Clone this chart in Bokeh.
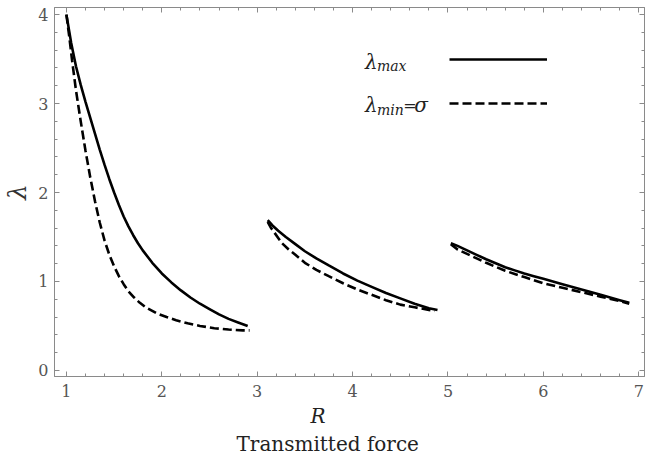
from bokeh.plotting import figure
from bokeh.models import (Range1d, LinearAxis, Label, Legend, LegendItem, FixedTicker,
                          Title, CustomJSTickFormatter)
from bokeh.embed import file_html
from bokeh.resources import INLINE

# ---- data ----
seg1_R_max = [1.00, 1.05, 1.10, 1.15, 1.20, 1.25, 1.30, 1.35, 1.40, 1.45, 1.50, 1.55, 1.60, 1.65,
              1.70, 1.75, 1.80, 1.90, 2.00, 2.10, 2.20, 2.30, 2.40, 2.50, 2.60, 2.70, 2.80, 2.90]
seg1_L_max = [4.00, 3.68, 3.42, 3.21, 3.02, 2.84, 2.66, 2.48, 2.31, 2.15, 2.00, 1.86, 1.73, 1.62,
              1.52, 1.43, 1.35, 1.21, 1.09, 0.99, 0.90, 0.82, 0.75, 0.69, 0.63, 0.58, 0.54, 0.50]
seg1_R_min = [1.00, 1.03, 1.06, 1.10, 1.15, 1.20, 1.25, 1.30, 1.35, 1.40, 1.45, 1.50, 1.55, 1.60,
              1.65, 1.71, 1.77, 1.83, 1.90, 1.95, 2.05, 2.15, 2.27, 2.40, 2.55, 2.70, 2.85, 2.92]
seg1_L_min = [4.00, 3.75, 3.48, 3.15, 2.80, 2.47, 2.17, 1.90, 1.66, 1.46, 1.30, 1.17, 1.06, 0.97,
              0.89, 0.82, 0.76, 0.71, 0.67, 0.64, 0.60, 0.565, 0.53, 0.50, 0.475, 0.46, 0.45, 0.45]

seg2_R_max = [3.11, 3.16, 3.22, 3.30, 3.40, 3.50, 3.62, 3.75, 3.90, 4.05, 4.20, 4.35, 4.50, 4.65, 4.80, 4.89]
seg2_L_max = [1.69, 1.63, 1.57, 1.50, 1.42, 1.34, 1.26, 1.18, 1.09, 1.01, 0.94, 0.87, 0.81, 0.75, 0.70, 0.68]
seg2_R_min = [3.11, 3.14, 3.18, 3.22, 3.26, 3.33, 3.40, 3.50, 3.62, 3.75, 3.90, 4.05, 4.20, 4.35, 4.50, 4.65, 4.80, 4.86]
seg2_L_min = [1.67, 1.61, 1.55, 1.49, 1.43, 1.36, 1.30, 1.21, 1.13, 1.06, 0.98, 0.91, 0.85, 0.79, 0.74, 0.71, 0.68, 0.67]

seg3_R_max = [5.03, 5.10, 5.20, 5.30, 5.40, 5.50, 5.60, 5.70, 5.80, 5.90, 6.00, 6.20, 6.40, 6.60, 6.80, 6.90]
seg3_L_max = [1.43, 1.40, 1.35, 1.30, 1.25, 1.205, 1.16, 1.125, 1.09, 1.06, 1.03, 0.97, 0.91, 0.85, 0.79, 0.76]
seg3_R_min = [5.03, 5.10, 5.20, 5.30, 5.40, 5.50, 5.60, 5.70, 5.80, 5.90, 6.00, 6.20, 6.40, 6.60, 6.80, 6.90]
seg3_L_min = [1.42, 1.36, 1.31, 1.26, 1.21, 1.165, 1.12, 1.085, 1.05, 1.015, 0.98, 0.93, 0.88, 0.83, 0.78, 0.75]

x_ticks = [1, 2, 3, 4, 5, 6, 7]
y_ticks = [0, 1, 2, 3, 4]

SERIF = "DejaVu Serif"
AX_COL = "#8a8a8a"
LAB_COL = "#555555"

p = figure(width=645, height=455, output_backend="svg", toolbar_location=None,
           x_range=Range1d(0.875, 7.06), y_range=Range1d(-0.068, 4.08),
           min_border_left=45, min_border_right=1, min_border_top=7, min_border_bottom=70,
           background_fill_color="white", border_fill_color="white")
p.grid.visible = False
p.outline_line_color = AX_COL

blank = CustomJSTickFormatter(code="return ''")

def style_axis(ax, labels=True):
    ax.axis_line_color = AX_COL
    ax.major_tick_line_color = AX_COL
    ax.minor_tick_line_color = AX_COL
    ax.major_tick_in = 5
    ax.major_tick_out = 0
    ax.minor_tick_in = 3
    ax.minor_tick_out = 0
    ax.major_label_text_font = SERIF
    ax.major_label_text_color = LAB_COL
    ax.major_label_text_font_size = "16px"
    if not labels:
        ax.formatter = blank
        ax.major_label_standoff = 0

xt = FixedTicker(ticks=x_ticks, minor_ticks=[0.8 + 0.2 * i for i in range(33)])
yt = FixedTicker(ticks=y_ticks, minor_ticks=[0.2 * i for i in range(21)])

p.xaxis.ticker = xt
p.yaxis.ticker = yt
style_axis(p.xaxis[0])
style_axis(p.yaxis[0])
p.xaxis.major_label_standoff = 8
p.yaxis.major_label_standoff = 6

p.yaxis.axis_label = "λ"
p.yaxis.axis_label_text_font = SERIF
p.yaxis.axis_label_text_font_style = "italic"
p.yaxis.axis_label_text_font_size = "25px"
p.yaxis.axis_label_text_color = "#333333"
p.yaxis.axis_label_standoff = 3

top = LinearAxis(ticker=xt)
style_axis(top, labels=False)
p.add_layout(top, "above")
right = LinearAxis(ticker=yt)
style_axis(right, labels=False)
p.add_layout(right, "right")

LW = 2.6
DASH = "9 4"
r1 = p.line(seg1_R_max, seg1_L_max, line_color="black", line_width=LW)
p.line(seg2_R_max, seg2_L_max, line_color="black", line_width=LW)
p.line(seg3_R_max, seg3_L_max, line_color="black", line_width=LW)
r2 = p.line(seg1_R_min, seg1_L_min, line_color="black", line_width=LW, line_dash=DASH)
p.line(seg2_R_min, seg2_L_min, line_color="black", line_width=LW, line_dash=DASH)
p.line(seg3_R_min, seg3_L_min, line_color="black", line_width=LW, line_dash=DASH)

legend = Legend(items=[LegendItem(label=" ", renderers=[r1]),
                       LegendItem(label=" ", renderers=[r2])],
                location=(395, 263), glyph_width=98, glyph_height=20,
                label_height=20, label_text_font_size="8px", spacing=24,
                padding=0, margin=0, border_line_color=None,
                background_fill_alpha=0, label_standoff=0, label_width=1)
p.add_layout(legend, "center")

def lab(x, y, t, size, style="italic", align="left", baseline="alphabetic", color="#222222"):
    p.add_layout(Label(x=x, y=y, text=t, text_font=SERIF, text_font_style=style,
                       text_font_size=size, text_align=align, text_baseline=baseline,
                       text_color=color))

# legend texts
lab(4.13, 3.47, "λ", "20px")
lab(4.255, 3.42, "max", "14px")
lab(4.13, 2.98, "λ", "20px")
lab(4.255, 2.93, "min", "14px")
lab(4.53, 2.98, "=", "16px", style="normal")
lab(4.645, 2.98, "σ", "20px")

# x-axis labels (stacked below the axis)
p.add_layout(Title(text="R", align="left", offset=256, text_font=SERIF,
                   text_font_style="italic", text_font_size="20px",
                   text_color="#222222", standoff=4), "below")
p.add_layout(Title(text="Transmitted force", align="left", offset=182, text_font=SERIF,
                   text_font_style="normal", text_font_size="20px",
                   text_color="#222222", standoff=0), "below")

open("out.html", "w").write(file_html(p, INLINE))
